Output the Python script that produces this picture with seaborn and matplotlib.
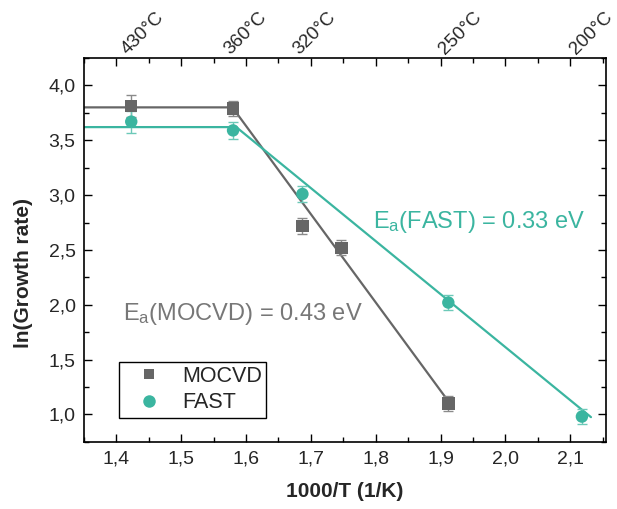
import numpy as np
import pandas as pd
import matplotlib
matplotlib.use("Agg")
import matplotlib.pyplot as plt
import matplotlib.transforms as mtransforms
from matplotlib.ticker import MultipleLocator, FuncFormatter
from matplotlib.lines import Line2D
import seaborn as sns

# Growth data: x = 1000/T (1/K), y = ln(growth rate)
mocvd_x = [1.423, 1.580, 1.687, 1.747, 1.912]
mocvd_y = [3.81, 3.79, 2.72, 2.52, 1.10]
mocvd_err = [0.10, 0.07, 0.075, 0.07, 0.07]

fast_x = [1.423, 1.580, 1.687, 1.912, 2.118]
fast_y = [3.67, 3.59, 3.01, 2.02, 0.98]
fast_err = [0.10, 0.08, 0.075, 0.07, 0.065]

# Piecewise fits: plateau then Arrhenius slope
mocvd_fit_x = [1.35, 1.579, 1.912]
mocvd_fit_y = [3.80, 3.80, 1.12]
fast_fit_x = [1.35, 1.585, 2.132]
fast_fit_y = [3.62, 3.62, 0.975]

# Temperatures marked along the top axis
top_temps_c = [430, 360, 320, 250, 200]

GREY = "#666666"
TEAL = "#3bb5a0"
GREY_ERR = "#8a8a8a"
TEAL_ERR = "#6cc9b8"

sns.set_theme(style="ticks")
plt.rcParams["font.family"] = ["Liberation Sans", "DejaVu Sans"]
plt.rcParams["mathtext.default"] = "regular"

pts = pd.DataFrame({
    "x": mocvd_x + fast_x,
    "y": mocvd_y + fast_y,
    "err": mocvd_err + fast_err,
    "method": ["MOCVD"] * len(mocvd_x) + ["FAST"] * len(fast_x),
})
fits = pd.DataFrame({
    "x": mocvd_fit_x + fast_fit_x,
    "y": mocvd_fit_y + fast_fit_y,
    "method": ["MOCVD"] * len(mocvd_fit_x) + ["FAST"] * len(fast_fit_x),
})
palette = {"MOCVD": GREY, "FAST": TEAL}

fig = plt.figure(figsize=(6.17, 5.09), dpi=100)
ax = fig.add_axes([0.136, 0.132, 0.846, 0.754])

sns.lineplot(data=fits, x="x", y="y", hue="method", palette=palette,
             sort=False, estimator=None, linewidth=1.6, legend=False, ax=ax,
             zorder=2)

for name, ecol in (("MOCVD", GREY_ERR), ("FAST", TEAL_ERR)):
    d = pts[pts["method"] == name]
    ax.errorbar(d["x"], d["y"], yerr=d["err"], fmt="none", ecolor=ecol,
                elinewidth=1.0, capsize=3.5, capthick=1.0, zorder=3)

sns.scatterplot(data=pts, x="x", y="y", hue="method", style="method",
                markers={"MOCVD": "s", "FAST": "o"}, palette=palette,
                s=80, linewidth=0, legend=False, ax=ax, zorder=4)

ax.set_xlim(1.35, 2.155)
ax.set_ylim(0.75, 4.25)

comma = FuncFormatter(lambda v, p: f"{v:.1f}".replace(".", ","))
ax.xaxis.set_major_locator(MultipleLocator(0.1))
ax.xaxis.set_minor_locator(MultipleLocator(0.05))
ax.yaxis.set_major_locator(MultipleLocator(0.5))
ax.yaxis.set_minor_locator(MultipleLocator(0.25))
ax.xaxis.set_major_formatter(comma)
ax.yaxis.set_major_formatter(comma)
ax.tick_params(which="both", direction="in", top=True, right=True,
               labeltop=False, labelright=False, color="black", width=1.0)
ax.tick_params(which="major", length=6, labelsize=14, pad=6)
ax.tick_params(which="minor", length=3.5)
for sp in ax.spines.values():
    sp.set_linewidth(1.2)
    sp.set_color("black")

ax.set_xlabel("1000/T (1/K)", fontsize=15, fontweight="bold")
ax.set_ylabel("ln(Growth rate)", fontsize=15, fontweight="bold")
ax.xaxis.set_label_coords(0.5, -0.105)
ax.yaxis.set_label_coords(-0.098, 0.44)

# Temperature labels above the frame
trans = mtransforms.blended_transform_factory(ax.transData, ax.transAxes)
offset = mtransforms.offset_copy(trans, fig=fig, x=-2, y=2.5, units="points")
for t in top_temps_c:
    ax.text(1000.0 / (t + 273.15), 1.0, f"{t}°C", transform=offset,
            rotation=45, rotation_mode="anchor", ha="left", va="baseline",
            fontsize=13.5)

ax.text(1.411, 1.92, "E$_a$(MOCVD) = 0.43 eV", color="#777777", fontsize=17,
        va="center", ha="left")
ax.text(1.796, 2.755, "E$_a$(FAST) = 0.33 eV", color=TEAL, fontsize=17,
        va="center", ha="left")

handles = [
    Line2D([], [], linestyle="none", marker="s", markersize=7.5,
           markerfacecolor=GREY, markeredgewidth=0, label="MOCVD"),
    Line2D([], [], linestyle="none", marker="o", markersize=9,
           markerfacecolor=TEAL, markeredgewidth=0, label="FAST"),
]
leg = ax.legend(handles=handles, loc="lower left",
                bbox_to_anchor=(0.067, 0.063), borderaxespad=0,
                fontsize=15.5, frameon=True,
                fancybox=False, edgecolor="black", framealpha=1,
                handletextpad=0.33, borderpad=0.2, labelspacing=0.25,
                handlelength=2.4)
leg.get_frame().set_linewidth(1.0)

fig.savefig("out.png", dpi=100)
